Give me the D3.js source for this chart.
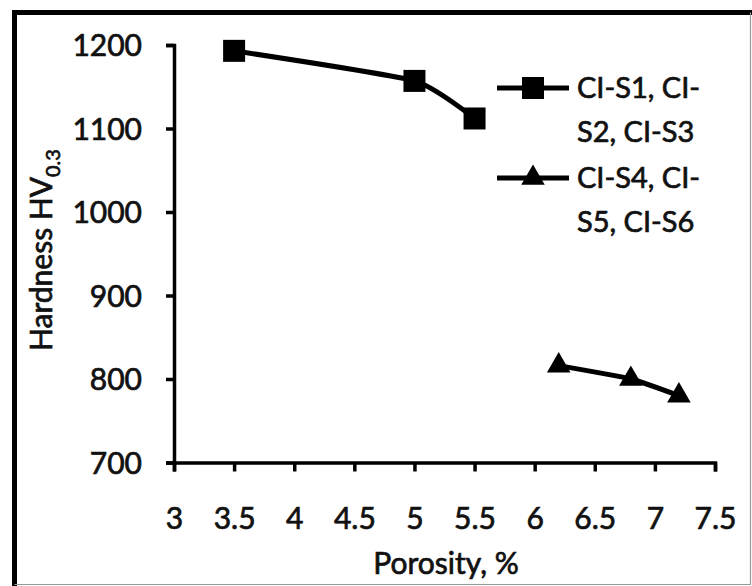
<!DOCTYPE html>
<html>
<head>
<meta charset="utf-8">
<script src="https://cdn.jsdelivr.net/npm/d3@7"></script>
<style>
  html, body { margin: 0; padding: 0; background: #fff; }
  svg { display: block; }
  text { font-family: Lato, "Open Sans", sans-serif; fill: #111; stroke: #111; stroke-width: 0.7px; }
</style>
</head>
<body>
<svg id="chart" width="752" height="586"></svg>
<script>
// ---- data ----
const seriesNames = ["CI-S1, CI-S2, CI-S3", "CI-S4, CI-S5, CI-S6"];
const legendLines1 = ["CI-S1, CI-", "S2, CI-S3"];
const legendLines2 = ["CI-S4, CI-", "S5, CI-S6"];
const porosity1 = [3.5, 5.0, 5.5];
const hardness1 = [1193, 1157, 1112];
const porosity2 = [6.2, 6.8, 7.2];
const hardness2 = [816, 800, 780];
const xTicks = [3, 3.5, 4, 4.5, 5, 5.5, 6, 6.5, 7, 7.5];
const yTicks = [700, 800, 900, 1000, 1100, 1200];
const xTitle = "Porosity, %";
const yTitleMain = "Hardness HV";
const yTitleSub = "0.3";

// ---- layout ----
const svg = d3.select("#chart");
const x = d3.scaleLinear().domain([3, 7.5]).range([174, 715]);
const y = d3.scaleLinear().domain([700, 1200]).range([462.5, 45]);

// outer frame
svg.append("rect").attr("x", 0).attr("y", 0).attr("width", 752).attr("height", 586).attr("fill", "#fff");
svg.append("path").attr("d", "M14.5,586 V12.5 H752").attr("fill", "none").attr("stroke", "#000").attr("stroke-width", 5);
svg.append("path").attr("d", "M14.5,584.5 H750.5 V12.5").attr("fill", "none").attr("stroke", "#999").attr("stroke-width", 1.2);

// axes
const xAxis = d3.axisBottom(x).tickValues(xTicks).tickSize(9).tickSizeOuter(9).tickPadding(34)
  .tickFormat(d3.format("~g"));
const yAxis = d3.axisLeft(y).tickValues(yTicks).tickSize(8).tickSizeOuter(8).tickPadding(24)
  .tickFormat(d3.format("d"));

const gx = svg.append("g").attr("transform", `translate(0,${y(700)})`).call(xAxis);
const gy = svg.append("g").attr("transform", `translate(${x(3)},0)`).call(yAxis);

[gx, gy].forEach(g => {
  g.select(".domain").attr("stroke", "#000").attr("stroke-width", 3.5);
  g.selectAll(".tick line").attr("stroke", "#000").attr("stroke-width", 3.5);
  g.selectAll(".tick text").style("font-family", "Lato, sans-serif").style("font-size", "30px")
    .attr("fill", "#111").attr("stroke", "#111").attr("stroke-width", 0.7);
});
gy.selectAll(".tick text").attr("dy", "0.36em");
gx.selectAll(".tick text").attr("dy", "0.78em");

// axis titles
svg.append("text").attr("x", 446).attr("y", 574).attr("text-anchor", "middle")
  .style("font-size", "30px").text(xTitle);

const yt = svg.append("text").attr("transform", "translate(52,250) rotate(-90)")
  .attr("text-anchor", "middle").style("font-size", "30px");
yt.append("tspan").text(yTitleMain);
yt.append("tspan").attr("dy", 8).style("font-size", "20px").text(yTitleSub);

// lines
const line = d3.line().x(d => x(d[0])).y(d => y(d[1])).curve(d3.curveCardinal.tension(0.5));
const data1 = porosity1.map((p, i) => [p, hardness1[i]]);
const data2 = porosity2.map((p, i) => [p, hardness2[i]]);

svg.append("path").datum(data1).attr("d", line).attr("fill", "none").attr("stroke", "#000").attr("stroke-width", 5);
svg.append("path").datum(data2).attr("d", line).attr("fill", "none").attr("stroke", "#000").attr("stroke-width", 5);

const sq = d3.symbol().type(d3.symbolSquare).size(22 * 22);
const tri = d3.symbol().type(d3.symbolTriangle).size(240);

svg.selectAll(".m1").data(data1).join("path").attr("class", "m1")
  .attr("transform", d => `translate(${x(d[0])},${y(d[1])})`).attr("d", sq).attr("fill", "#000");
svg.selectAll(".m2").data(data2).join("path").attr("class", "m2")
  .attr("transform", d => `translate(${x(d[0])},${y(d[1])})`).attr("d", tri).attr("fill", "#000");

// legend
const legend = [
  { lines: legendLines1, sym: sq, y: 88 },
  { lines: legendLines2, sym: tri, y: 178 }
];
legend.forEach(l => {
  const g = svg.append("g");
  g.append("line").attr("x1", 497).attr("x2", 569).attr("y1", l.y).attr("y2", l.y)
    .attr("stroke", "#000").attr("stroke-width", 5);
  g.append("path").attr("d", l.sym).attr("transform", `translate(533,${l.y})`).attr("fill", "#000");
  l.lines.forEach((t, i) => {
    g.append("text").attr("x", 577).attr("y", l.y + i * 44).attr("dy", "0.36em")
      .style("font-size", "29px").text(t);
  });
});
</script>
</body>
</html>
